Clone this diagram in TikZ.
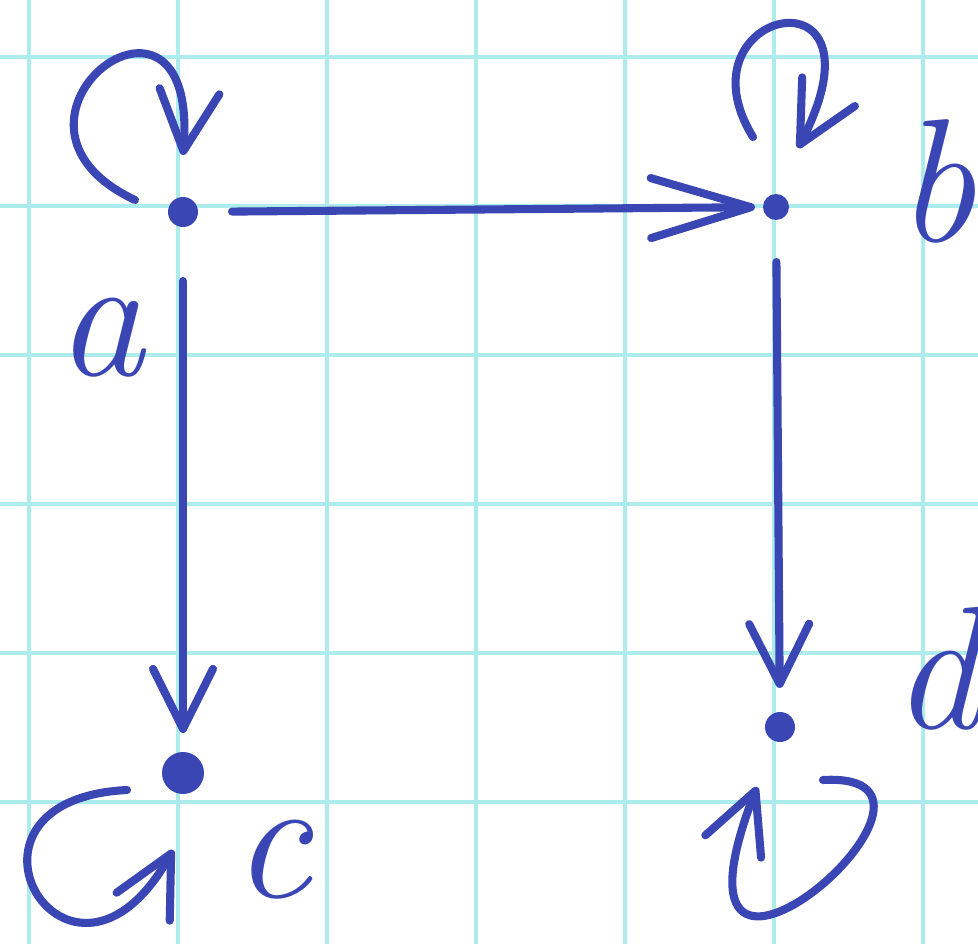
\documentclass[tikz,border=0pt]{standalone}
\usepackage{tikz}
\usetikzlibrary{arrows.meta, bending}

\definecolor{ink}{RGB}{58,70,180}
\definecolor{gridcyan}{RGB}{172,236,236}

\begin{document}
\begin{tikzpicture}[
    line width=2.3pt,
    line cap=round,
    >={Straight Barb[length=6mm, width=6mm, round]},
    dot/.style={circle, fill=ink, inner sep=0pt, minimum size=0.3cm},
    lbl/.style={text=ink, inner sep=0pt, font=\fontsize{50}{60}\selectfont\itshape},
    edgeline/.style={draw=ink, ->}
]

% Paper
\fill[white] (0,0) rectangle (9.78,-9.44);
\useasboundingbox (0,0) rectangle (9.78,-9.44);
\foreach \x in {0,...,6}
    \draw[gridcyan, line width=0.04cm] ({0.29+1.49*\x},0) -- ({0.29+1.49*\x},-9.44);
\foreach \y in {0,...,5}
    \draw[gridcyan, line width=0.04cm] (0,{-0.57-1.49*\y}) -- (9.78,{-0.57-1.49*\y});

% Nodes
\node[dot] (a) at (1.83,-2.12) {};
\node[dot, minimum size=0.26cm] (b) at (7.76,-2.07) {};
\node[dot, minimum size=0.42cm] (c) at (1.83,-7.73) {};
\node[dot] (d) at (7.80,-7.27) {};

% Labels
\node[lbl] (la) at (1.00,-3.38) {a};
\node[lbl] (lb) at (9.36,-1.81) {b};
\node[lbl] (lc) at (2.72,-8.60) {c};
\node[lbl] (ld) at (9.36,-6.68) {d};

% Arrows between points
\draw[edgeline, -{Straight Barb[length=10mm, width=6mm, round]}, shorten <=0.3cm, shorten >=0.04cm] (a) -- (b);
\draw[edgeline, shorten <=0.5cm, shorten >=0.15cm] (a) -- (c);
\draw[edgeline, shorten <=0.38cm, shorten >=0.2cm] (b) -- (d);

% Loops
\draw[edgeline] ([shift={(-0.48,0.12)}]a.center) .. controls +(-1.7,0.8) and +(0.22,2.15) .. ([shift={(0,0.57)}]a.center);
\draw[edgeline] ([shift={(-0.23,0.70)}]b.center) .. controls +(-0.8,1.3) and +(1.02,1.88) .. ([shift={(0.22,0.59)}]b.center);
\draw[edgeline] ([shift={(-0.56,-0.17)}]c.center) .. controls +(-2.0,-0.1) and +(-1.0,-1.9) .. ([shift={(-0.10,-0.77)}]c.center);
\draw[edgeline] ([shift={(0.43,-0.53)}]d.center) .. controls +(1.8,0.1) and +(-1.2,-3.0) .. ([shift={(-0.23,-0.60)}]d.center);

\end{tikzpicture}
\end{document}
